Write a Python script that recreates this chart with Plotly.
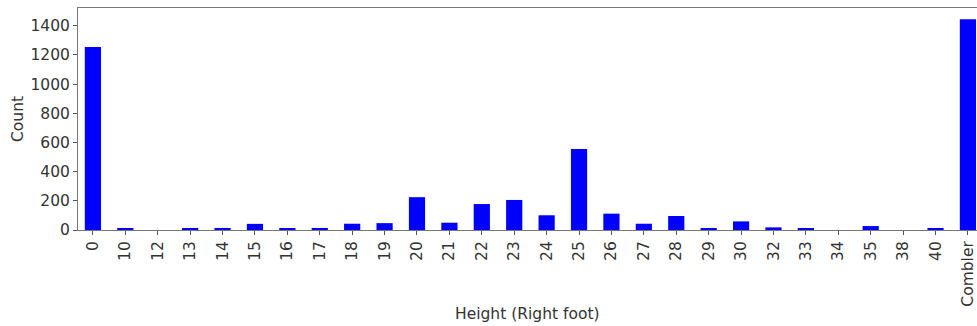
import plotly.graph_objects as go

categories = ["0", "10", "12", "13", "14", "15", "16", "17", "18", "19", "20",
              "21", "22", "23", "24", "25", "26", "27", "28", "29", "30", "32",
              "33", "34", "35", "38", "40", "Combler"]
counts = [1255, 10, 0, 10, 14, 42, 10, 14, 43, 47, 225,
          50, 178, 206, 101, 555, 112, 43, 96, 9, 59, 18,
          10, 0, 27, 0, 14, 1445]
y_ticks = [0, 200, 400, 600, 800, 1000, 1200, 1400]

font_color = "#333333"
fig = go.Figure(go.Bar(x=categories, y=counts, width=0.5,
                       marker=dict(color="#0000ff", line=dict(width=0))))

fig.update_layout(
    width=977, height=326,
    margin=dict(l=78, r=0, t=8, b=96),
    paper_bgcolor="white", plot_bgcolor="white",
    font=dict(family="DejaVu Sans", size=15, color=font_color),
    showlegend=False,
    xaxis=dict(
        type="category", range=[-0.46, 27.28], automargin=False,
        tickangle=-90, ticks="outside", ticklen=4, tickcolor="#555",
        showline=True, linecolor="#777", mirror=True, linewidth=1,
        showgrid=False, tickfont=dict(size=15.5),
    ),
    yaxis=dict(
        range=[0, 1522], tickvals=y_ticks, ticks="outside", ticklen=4,
        automargin=False,
        tickcolor="#555", showline=True, linecolor="#777", linewidth=1,
        showgrid=False, zeroline=False, tickfont=dict(size=15.5),
    ),
    annotations=[
        dict(text="Height (Right foot)", xref="paper", yref="paper",
             x=0.5, y=0, yshift=-84, xanchor="center", yanchor="middle",
             showarrow=False, font=dict(size=15.5, color=font_color)),
        dict(text="Count", xref="paper", yref="paper",
             x=0, y=0.5, xshift=-60, xanchor="center", yanchor="middle",
             textangle=-90, showarrow=False,
             font=dict(size=15.5, color=font_color)),
    ],
)
fig.write_html("out.html", config={"displayModeBar": False},
               post_script="document.body.style.margin='0';document.body.style.overflow='hidden';")
